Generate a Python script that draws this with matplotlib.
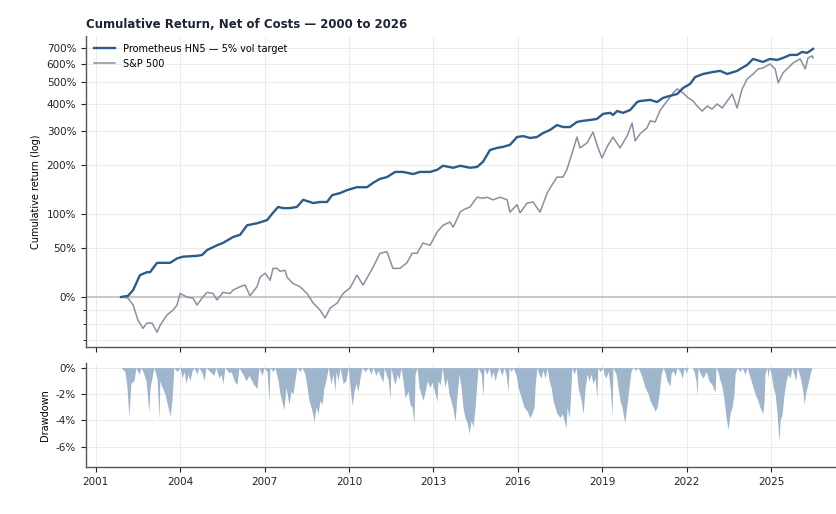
import numpy as np
import pandas as pd
import matplotlib
matplotlib.use("Agg")
import matplotlib.pyplot as plt
import matplotlib.dates as mdates
from matplotlib.ticker import FixedLocator, FuncFormatter

# cumulative return (%), dates as decimal years
hn5_years = [2001.90, 2002.15, 2002.33, 2002.57, 2002.82, 2002.93, 2003.18, 2003.39, 2003.64, 2003.89,
             2004.10, 2004.60, 2004.78, 2004.96, 2005.31, 2005.52, 2005.88, 2006.13, 2006.38, 2006.73,
             2007.09, 2007.30, 2007.48, 2007.66, 2007.90, 2008.15, 2008.37, 2008.62, 2008.73, 2008.97,
             2009.22, 2009.40, 2009.68, 2009.93, 2010.28, 2010.64, 2010.85, 2011.10, 2011.35, 2011.64,
             2011.92, 2012.28, 2012.52, 2012.88, 2013.13, 2013.34, 2013.70, 2013.95, 2014.30, 2014.55,
             2014.76, 2015.01, 2015.26, 2015.47, 2015.72, 2015.97, 2016.19, 2016.43, 2016.68, 2016.90,
             2017.14, 2017.39, 2017.60, 2017.85, 2018.10, 2018.31, 2018.56, 2018.81, 2019.03, 2019.28,
             2019.38, 2019.53, 2019.74, 2019.99, 2020.24, 2020.34, 2020.70, 2020.95, 2021.16, 2021.41,
             2021.66, 2021.87, 2022.12, 2022.30, 2022.58, 2022.94, 2023.19, 2023.44, 2023.79, 2024.15,
             2024.36, 2024.71, 2024.96, 2025.21, 2025.42, 2025.67, 2025.92, 2026.10, 2026.28, 2026.49]
hn5_ret = [0, 1, 6, 20, 23, 23, 33, 33, 33, 38,
           40, 41, 42, 48, 54, 57, 65, 68, 82, 85,
           90, 102, 112, 110, 110, 112, 125, 121, 119, 121,
           121, 134, 138, 144, 150, 150, 159, 168, 172, 184,
           184, 179, 184, 184, 189, 199, 194, 199, 194, 196,
           209, 241, 247, 250, 256, 280, 283, 277, 280, 293,
           303, 320, 313, 313, 331, 335, 338, 342, 361, 365,
           357, 372, 365, 376, 409, 413, 418, 409, 427, 436,
           444, 472, 492, 527, 543, 554, 560, 543, 560, 594,
           629, 611, 629, 623, 635, 654, 654, 673, 667, 693]

spx_years = [2001.97, 2002.15, 2002.33, 2002.50, 2002.68, 2002.82, 2003.00, 2003.18, 2003.29, 2003.53,
             2003.75, 2003.89, 2004.00, 2004.24, 2004.46, 2004.60, 2004.81, 2004.96, 2005.17, 2005.31,
             2005.52, 2005.77, 2005.88, 2006.13, 2006.31, 2006.48, 2006.73, 2006.84, 2007.02, 2007.20,
             2007.30, 2007.44, 2007.55, 2007.73, 2007.80, 2007.90, 2008.01, 2008.26, 2008.51, 2008.73,
             2008.97, 2009.15, 2009.33, 2009.58, 2009.79, 2010.04, 2010.28, 2010.50, 2010.85, 2011.10,
             2011.35, 2011.56, 2011.81, 2012.06, 2012.24, 2012.42, 2012.63, 2012.88, 2013.13, 2013.34,
             2013.59, 2013.70, 2013.95, 2014.06, 2014.30, 2014.55, 2014.76, 2014.90, 2015.12, 2015.37,
             2015.62, 2015.72, 2015.97, 2016.08, 2016.33, 2016.54, 2016.79, 2017.04, 2017.14, 2017.39,
             2017.60, 2017.74, 2017.96, 2018.10, 2018.21, 2018.46, 2018.67, 2018.85, 2018.99, 2019.17,
             2019.38, 2019.63, 2019.88, 2020.06, 2020.17, 2020.34, 2020.59, 2020.70, 2020.88, 2021.06,
             2021.30, 2021.52, 2021.66, 2021.87, 2022.05, 2022.23, 2022.37, 2022.55, 2022.73, 2022.90,
             2023.08, 2023.26, 2023.44, 2023.62, 2023.79, 2023.97, 2024.15, 2024.36, 2024.54, 2024.71,
             2024.96, 2025.14, 2025.25, 2025.42, 2025.60, 2025.78, 2026.03, 2026.21, 2026.31, 2026.46,
             2026.49]
spx_ret = [0, -1, -6.5, -17.5, -23, -19.5, -19.5, -25.4, -21, -14,
           -10.3, -6.5, 3, 0, -1, -6.5, 0, 4, 3, -2.5,
           4, 3, 6, 9, 10.5, 1, 9, 18, 22, 15,
           27, 27, 24, 25, 18, 15, 12, 9, 3, -4.9,
           -10.3, -16, -8.8, -4.9, 3, 8, 20, 10.5, 28, 44,
           46, 27, 27, 33, 44, 44, 57, 54, 72, 82,
           87, 79, 103, 107, 112, 130, 128, 130, 125, 130,
           125, 103, 116, 102, 119, 121, 103, 138, 148, 172,
           172, 189, 241, 280, 247, 262, 296, 247, 219, 250,
           280, 247, 283, 327, 268, 290, 310, 335, 331, 376,
           413, 449, 468, 449, 427, 413, 392, 372, 392, 380,
           401, 384, 413, 444, 384, 468, 517, 543, 571, 576,
           599, 571, 497, 549, 576, 605, 629, 571, 635, 648,
           635]

# drawdown of the strategy (%)
dd_years = [2001.90, 2002.04, 2002.11, 2002.18, 2002.25, 2002.36, 2002.43, 2002.54, 2002.61, 2002.68,
            2002.79, 2002.89, 2002.93, 2003.00, 2003.07, 2003.18, 2003.25, 2003.28, 2003.36, 2003.46,
            2003.57, 2003.64, 2003.71, 2003.78, 2003.89, 2004.00, 2004.07, 2004.14, 2004.21, 2004.28,
            2004.35, 2004.42, 2004.49, 2004.60, 2004.67, 2004.78, 2004.85, 2004.92, 2005.06, 2005.20,
            2005.27, 2005.38, 2005.45, 2005.52, 2005.59, 2005.74, 2005.81, 2005.92, 2006.02, 2006.09,
            2006.23, 2006.34, 2006.45, 2006.59, 2006.73, 2006.80, 2006.91, 2006.98, 2007.09, 2007.16,
            2007.19, 2007.30, 2007.37, 2007.48, 2007.55, 2007.62, 2007.69, 2007.76, 2007.87, 2007.94,
            2008.01, 2008.08, 2008.15, 2008.26, 2008.33, 2008.44, 2008.51, 2008.58, 2008.65, 2008.72,
            2008.76, 2008.83, 2008.90, 2008.97, 2009.04, 2009.11, 2009.18, 2009.26, 2009.36, 2009.43,
            2009.50, 2009.54, 2009.61, 2009.68, 2009.79, 2009.89, 2009.97, 2010.04, 2010.11, 2010.18,
            2010.25, 2010.32, 2010.39, 2010.46, 2010.57, 2010.68, 2010.78, 2010.85, 2010.96, 2011.03,
            2011.14, 2011.21, 2011.25, 2011.32, 2011.39, 2011.46, 2011.49, 2011.57, 2011.64, 2011.71,
            2011.78, 2011.85, 2011.92, 2011.99, 2012.10, 2012.17, 2012.24, 2012.31, 2012.35, 2012.42,
            2012.49, 2012.56, 2012.63, 2012.71, 2012.78, 2012.88, 2012.95, 2013.06, 2013.13, 2013.16,
            2013.24, 2013.31, 2013.41, 2013.48, 2013.55, 2013.62, 2013.70, 2013.77, 2013.84, 2013.91,
            2013.98, 2014.05, 2014.12, 2014.20, 2014.27, 2014.34, 2014.41, 2014.48, 2014.55, 2014.59,
            2014.70, 2014.76, 2014.80, 2014.90, 2014.98, 2015.05, 2015.12, 2015.19, 2015.26, 2015.33,
            2015.44, 2015.51, 2015.58, 2015.65, 2015.69, 2015.76, 2015.83, 2015.93, 2016.01, 2016.08,
            2016.15, 2016.22, 2016.33, 2016.43, 2016.50, 2016.58, 2016.61, 2016.68, 2016.75, 2016.82,
            2016.89, 2016.97, 2017.04, 2017.11, 2017.18, 2017.25, 2017.32, 2017.39, 2017.50, 2017.57,
            2017.64, 2017.71, 2017.75, 2017.82, 2017.85, 2017.92, 2018.00, 2018.07, 2018.14, 2018.25,
            2018.32, 2018.39, 2018.46, 2018.53, 2018.60, 2018.67, 2018.74, 2018.81, 2018.84, 2018.92,
            2019.03, 2019.06, 2019.13, 2019.21, 2019.28, 2019.35, 2019.38, 2019.49, 2019.56, 2019.63,
            2019.70, 2019.80, 2019.87, 2019.95, 2020.02, 2020.09, 2020.20, 2020.27, 2020.38, 2020.45,
            2020.52, 2020.63, 2020.70, 2020.77, 2020.88, 2020.95, 2021.02, 2021.09, 2021.16, 2021.23,
            2021.30, 2021.41, 2021.44, 2021.51, 2021.58, 2021.66, 2021.76, 2021.84, 2021.91, 2021.98,
            2022.05, 2022.19, 2022.26, 2022.33, 2022.37, 2022.40, 2022.47, 2022.58, 2022.69, 2022.79,
            2022.90, 2023.01, 2023.04, 2023.11, 2023.19, 2023.26, 2023.33, 2023.40, 2023.47, 2023.54,
            2023.61, 2023.68, 2023.72, 2023.79, 2023.90, 2023.97, 2024.07, 2024.15, 2024.22, 2024.29,
            2024.36, 2024.43, 2024.53, 2024.60, 2024.71, 2024.75, 2024.78, 2024.85, 2024.89, 2024.93,
            2025.00, 2025.07, 2025.14, 2025.21, 2025.28, 2025.32, 2025.39, 2025.46, 2025.53, 2025.60,
            2025.67, 2025.74, 2025.81, 2025.88, 2025.92, 2025.99, 2026.06, 2026.14, 2026.17, 2026.24,
            2026.31, 2026.38, 2026.45, 2026.49]
dd_pct = [0, -0.3, -1.5, -3.7, -1.2, -1.0, 0, -0.5, 0, -0.3,
          -1.0, -3.4, -1.5, -0.8, 0, -0.8, -3.9, -1.0, -1.5, -2.0,
          -3.0, -3.7, -2.5, 0, -0.3, 0, -0.8, -0.3, -1.2, -0.5,
          -1.0, -0.3, 0, -0.5, 0, -0.4, -1.0, 0, -0.3, -0.6,
          0, -0.8, -0.5, -1.2, 0, -0.4, -0.3, -1.0, -1.3, 0,
          -0.5, -1.0, -0.6, -1.2, -1.6, 0, -0.6, 0, -0.3, -2.6,
          0, -0.3, 0, -1.0, -2.0, -2.6, -3.2, -1.5, -2.8, -1.8,
          -2.0, -1.0, 0, -0.3, 0, -0.5, -1.5, -2.5, -3.0, -3.6,
          -4.1, -3.0, -3.5, -2.5, -2.8, -1.5, -1.0, 0, -1.2, -0.5,
          -1.8, -0.3, -1.0, 0, -1.2, -1.0, 0, -1.5, -2.9, -1.8,
          -1.2, -1.8, -0.8, 0, -0.3, 0, -0.5, 0, -0.6, -0.2,
          -0.8, -1.1, 0, -0.5, -0.9, -2.4, 0, -0.8, -1.3, -0.5,
          -0.9, 0, -1.0, -2.3, -1.8, -2.8, -3.0, -4.2, -0.5, 0,
          -1.5, -2.0, -2.5, -1.8, -1.0, -1.5, -1.1, -2.0, -2.6, -1.0,
          -1.3, 0, -1.5, -0.8, -2.0, -2.5, -3.2, -4.1, -2.0, -0.5,
          -1.5, -3.0, -3.8, -4.2, -5.0, -4.0, -4.5, -3.0, -1.0, 0,
          -0.5, -2.2, 0, -0.5, 0, -0.8, -0.3, -1.0, -0.4, 0,
          -0.6, 0, -0.5, -1.8, 0, -0.3, 0, -0.5, -1.5, -2.0,
          -2.5, -3.0, -3.3, -3.8, -3.5, -3.0, -1.5, 0, -0.5, -0.8,
          -0.2, -0.8, 0, -1.0, -1.5, -2.5, -3.0, -3.5, -3.8, -3.5,
          -4.0, -4.6, -3.0, -3.8, -3.0, 0, -0.5, 0, -1.5, -2.5,
          -3.5, -1.5, -0.5, -1.0, -0.5, -1.2, -0.8, -2.3, 0, -0.3,
          0, -0.5, -0.8, -0.3, -1.5, -3.6, 0, -0.5, -1.5, -2.5,
          -3.0, -4.2, -3.0, -1.5, -0.3, 0, -0.2, 0, -0.5, -1.0,
          -1.5, -2.0, -2.5, -2.8, -3.3, -3.0, -2.0, -0.5, 0, -0.4,
          -1.0, -1.4, -0.5, -0.2, -0.6, 0, -0.3, -0.8, 0, -0.4,
          0, 0, -0.3, -1.0, -2.2, 0, -0.4, -0.8, -0.3, -1.0,
          -1.3, -1.9, 0, -0.3, -1.0, -1.5, -2.5, -3.8, -4.7, -3.5,
          -3.0, -2.0, -0.5, 0, -0.3, 0, -0.5, 0, -0.5, -1.0,
          -1.5, -2.0, -2.5, -3.0, -3.5, -2.5, -0.5, 0, -0.8, 0,
          -0.5, -1.5, -2.0, -3.5, -5.6, -4.0, -3.5, -2.0, -1.0, -0.5,
          -0.8, 0, -0.5, -1.0, 0, -0.4, -1.0, -2.0, -2.8, -1.8,
          -1.2, -0.5, 0, 0]

growth_ticks = [1, 1.5, 2, 3, 4, 5, 6, 7, 8]
dd_ticks = [0, -2, -4, -6]


def to_dates(years):
    out = []
    for y in years:
        yr = int(np.floor(y))
        out.append(pd.Timestamp(yr, 1, 1) + pd.Timedelta(days=(y - yr) * 365.25))
    return pd.DatetimeIndex(out)


BLUE = "#2c5b8c"
GREY = "#8890a0"
FILL = "#9fb5cc"
GRID = "#ebebeb"

plt.rcParams["font.family"] = "DejaVu Sans"

fig = plt.figure(figsize=(8.37, 5.14), dpi=100)
ax = fig.add_axes([0.1027, 0.3249, 0.8973, 0.6051])
ax2 = fig.add_axes([0.1027, 0.0914, 0.8973, 0.2024], sharex=ax)

hn5_d = to_dates(hn5_years)
spx_d = to_dates(spx_years)
dd_d = to_dates(dd_years)

ax.axhline(1.0, color="#c9c9c9", lw=1.5, zorder=1)
ax.plot(spx_d, 1 + np.array(spx_ret) / 100, color=GREY, lw=1.1, label="S&P 500", zorder=2)
ax.plot(hn5_d, 1 + np.array(hn5_ret) / 100, color=BLUE, lw=1.7,
        label="Prometheus HN5 \u2014 5% vol target", zorder=3)

ax.set_yscale("log")
ax.set_ylim(0.659, 8.83)
ax.yaxis.set_major_locator(FixedLocator(growth_ticks))
ax.yaxis.set_major_formatter(FuncFormatter(lambda v, p: f"{(v - 1) * 100:.0f}%"))
ax.yaxis.set_minor_locator(FixedLocator([0.7, 0.8, 0.9]))
ax.yaxis.set_minor_formatter(FuncFormatter(lambda v, p: ""))
ax.grid(True, which="both", color=GRID, lw=0.7)
ax.set_axisbelow(True)
ax.set_ylabel("Cumulative return (log)", fontsize=7)
ax.set_title("Cumulative Return, Net of Costs \u2014 2000 to 2026", loc="left",
             fontsize=8.5, fontweight="bold", color="#1b2433", pad=6)

h, l = ax.get_legend_handles_labels()
ax.legend(h[::-1], l[::-1], loc="upper left", frameon=False, fontsize=7,
          handlelength=2.2, borderaxespad=0.4)

ax2.fill_between(dd_d, dd_pct, 0, color=FILL, lw=0)
ax2.set_ylim(-7.55, 0.35)
ax2.yaxis.set_major_locator(FixedLocator(dd_ticks))
ax2.yaxis.set_major_formatter(FuncFormatter(lambda v, p: f"{v:.0f}%"))
ax2.grid(True, color=GRID, lw=0.7)
ax2.set_axisbelow(True)
ax2.set_ylabel("Drawdown", fontsize=7)

ax2.set_xlim(to_dates([2000.655])[0], to_dates([2027.34])[0])
ax2.xaxis.set_major_locator(mdates.YearLocator(3))
ax2.xaxis.set_major_formatter(mdates.DateFormatter("%Y"))
plt.setp(ax.get_xticklabels(), visible=False)

for a in (ax, ax2):
    for s in ("top", "right"):
        a.spines[s].set_visible(False)
    for s in ("left", "bottom"):
        a.spines[s].set_color("#555555")
        a.spines[s].set_linewidth(1.0)
    a.tick_params(labelsize=7.5, colors="#222222", length=3.5, width=0.8)
    a.tick_params(which="minor", length=2, width=0.6)

fig.savefig("out.png", dpi=100)
